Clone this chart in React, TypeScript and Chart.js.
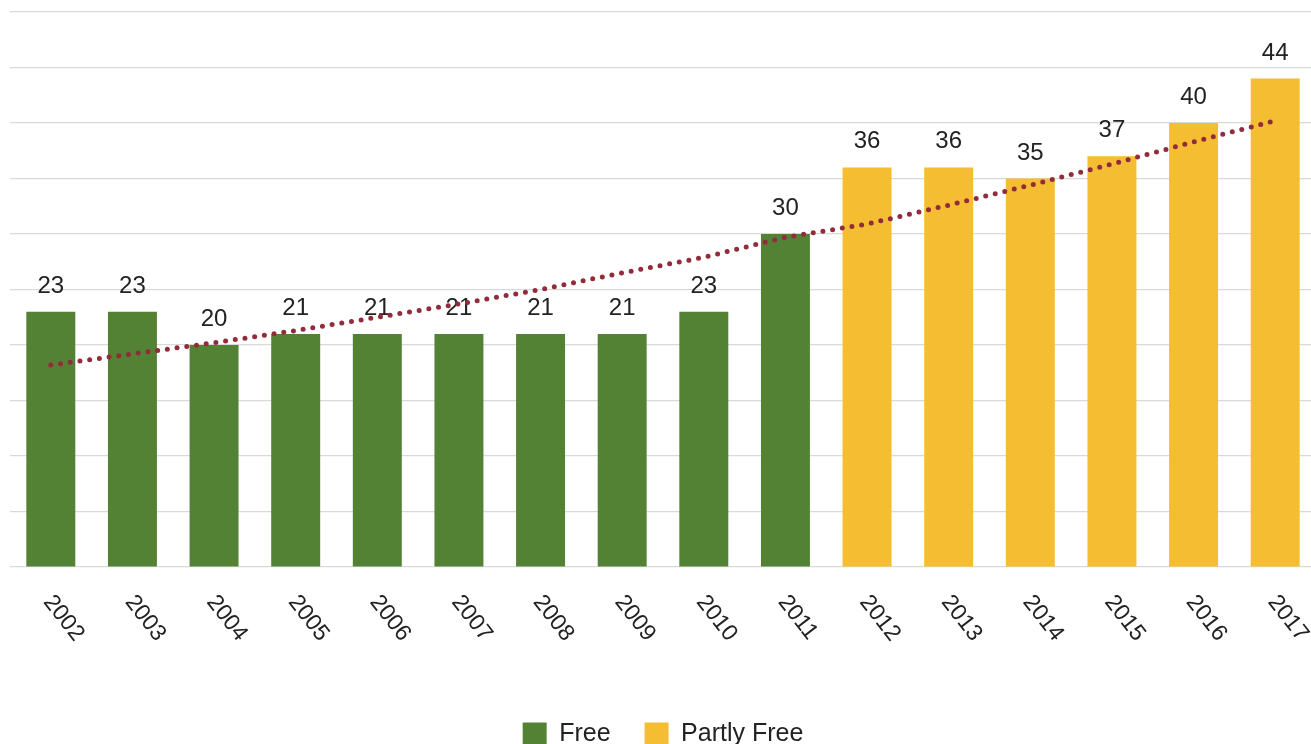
import React, { useEffect, useRef } from "react";
import { Chart, registerables } from "chart.js";

Chart.register(...registerables);

const years = ["2002", "2003", "2004", "2005", "2006", "2007", "2008", "2009", "2010", "2011", "2012", "2013", "2014", "2015", "2016", "2017"];
const freeValues = [23, 23, 20, 21, 21, 21, 21, 21, 23, 30, null, null, null, null, null, null];
const partlyFreeValues = [null, null, null, null, null, null, null, null, null, null, 36, 36, 35, 37, 40, 44];
const trendValues = [18.2, 19.2, 20.2, 21.3, 22.5, 23.7, 25.0, 26.5, 27.9, 29.7, 30.9, 32.6, 34.4, 36.3, 38.3, 40.2];
const yMin = 0;
const yMax = 50;
const yStep = 5;

const FONT = "'Liberation Sans', Arial, Helvetica, sans-serif";

const valueLabelPlugin = {
  id: "valueLabels",
  afterDatasetDraw(chart: any, args: any) {
    if (args.index > 1) return;
    const ctx = chart.ctx;
    const meta = args.meta;
    const data = chart.data.datasets[args.index].data;
    ctx.save();
    ctx.font = `24px ${FONT}`;
    ctx.fillStyle = "#222222";
    ctx.textAlign = "center";
    ctx.textBaseline = "alphabetic";
    meta.data.forEach((bar: any, i: number) => {
      const v = data[i];
      if (v === null || v === undefined) return;
      ctx.fillText(String(v), bar.x, bar.y - 19);
    });
    ctx.restore();
  },
};

const rotatedTickPlugin = {
  id: "rotatedTicks",
  afterDraw(chart: any) {
    const ctx = chart.ctx;
    const xs = chart.scales.x;
    const baseY = chart.chartArea.bottom;
    ctx.save();
    ctx.font = `23px ${FONT}`;
    ctx.fillStyle = "#222222";
    ctx.textAlign = "left";
    ctx.textBaseline = "middle";
    years.forEach((label, i) => {
      const x = xs.getPixelForValue(i);
      ctx.save();
      ctx.translate(x - 3, baseY + 31);
      ctx.rotate((52 * Math.PI) / 180);
      ctx.fillText(label, 0, 0);
      ctx.restore();
    });
    ctx.restore();
  },
};

export default function App() {
  const canvasRef = useRef<HTMLCanvasElement | null>(null);

  useEffect(() => {
    document.documentElement.style.overflow = "hidden";
    document.body.style.margin = "0";
    document.body.style.overflow = "hidden";
    const canvas = canvasRef.current;
    if (!canvas) return;
    const chart = new Chart(canvas, {
      type: "bar",
      data: {
        labels: years,
        datasets: [
          {
            type: "bar",
            label: "Free",
            data: freeValues,
            backgroundColor: "#548235",
            borderWidth: 0,
            grouped: false,
            barPercentage: 0.6,
            categoryPercentage: 1.0,
            order: 2,
          } as any,
          {
            type: "bar",
            label: "Partly Free",
            data: partlyFreeValues,
            backgroundColor: "#F5BD32",
            borderWidth: 0,
            grouped: false,
            barPercentage: 0.6,
            categoryPercentage: 1.0,
            order: 2,
          } as any,
          {
            type: "line",
            label: "Trend",
            data: trendValues,
            borderColor: "#922B3A",
            borderWidth: 5,
            borderDash: [0, 9.8],
            borderCapStyle: "round",
            pointRadius: 0,
            fill: false,
            tension: 0,
            order: 1,
          } as any,
        ],
      },
      options: {
        animation: false,
        responsive: true,
        maintainAspectRatio: false,
        layout: { padding: { left: 10, right: 4, top: 12, bottom: 0 } },
        scales: {
          x: {
            offset: true,
            grid: { display: false },
            border: { display: false },
            ticks: { display: false },
            afterFit: (scale: any) => {
              scale.height = 121;
            },
          },
          y: {
            min: yMin,
            max: yMax,
            ticks: { display: false, stepSize: yStep },
            grid: { color: "#d9d9d9", lineWidth: 1.2, drawTicks: false },
            border: { display: false },
          },
        },
        plugins: {
          legend: {
            position: "bottom",
            labels: {
              filter: (item: any) => item.datasetIndex < 2,
              boxWidth: 24,
              boxHeight: 24,
              padding: 34,
              color: "#222222",
              font: { size: 25, family: FONT },
            },
          },
          tooltip: { enabled: false },
        },
      },
      plugins: [valueLabelPlugin, rotatedTickPlugin],
    });
    return () => chart.destroy();
  }, []);

  return (
    <div style={{ position: "absolute", left: 0, top: 0, width: "1320px", height: "757px" }}>
      <canvas ref={canvasRef} />
    </div>
  );
}
